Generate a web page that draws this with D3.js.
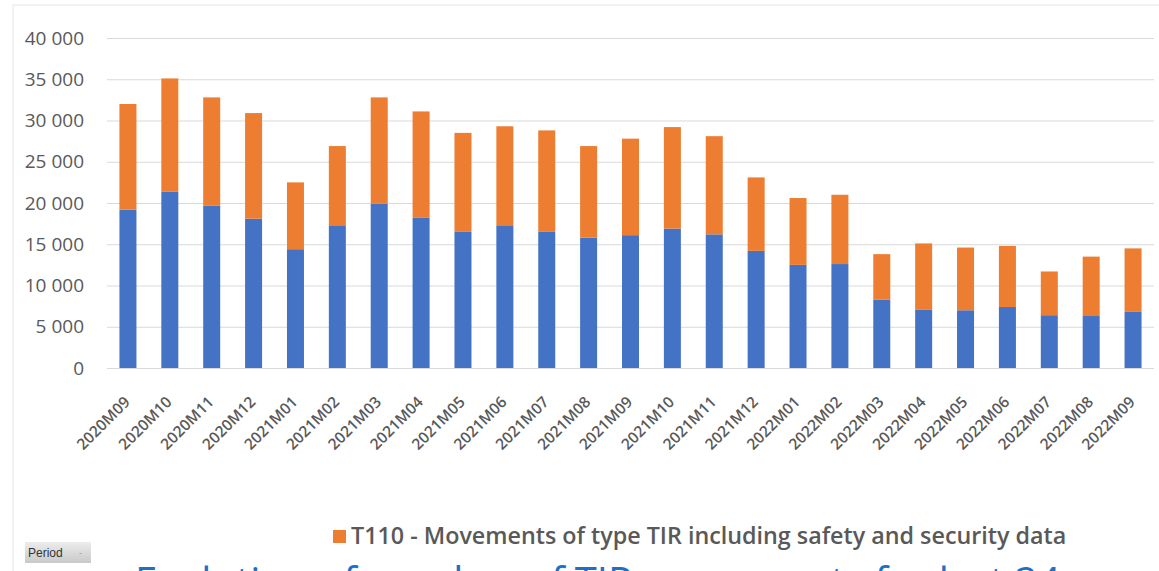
<!DOCTYPE html>
<html>
<head>
<meta charset="utf-8">
<script src="https://cdn.jsdelivr.net/npm/d3@7"></script>
<style>
  body { margin: 0; background: #fff; }
  svg { display: block; }
  .grid line { stroke: #d9d9d9; stroke-width: 1; }
  .grid .domain { display: none; }
  .axis text { fill: #595959; font-family: "Open Sans", sans-serif; }
  .axis .domain, .axis line { display: none; }
</style>
</head>
<body>
<svg id="chart" width="1159" height="571"></svg>
<script>
/* =======================
   DATA
======================= */
const periods = [
    "2020M09", "2020M10", "2020M11", "2020M12",
    "2021M01", "2021M02", "2021M03", "2021M04", "2021M05", "2021M06",
    "2021M07", "2021M08", "2021M09", "2021M10", "2021M11", "2021M12",
    "2022M01", "2022M02", "2022M03", "2022M04", "2022M05", "2022M06",
    "2022M07", "2022M08", "2022M09"
];
// blue series (lower part of each bar)
const otherTir = [
    19200, 21400, 19700, 18100,
    14400, 17300, 19900, 18200, 16500, 17300,
    16500, 15800, 16100, 16900, 16200, 14200,
    12500, 12600, 8300, 7100, 7000, 7400,
    6400, 6300, 6800
];
// orange series: T110
const t110 = [
    12800, 13700, 13100, 12800,
    8100, 9600, 12900, 12900, 12000, 12000,
    12300, 11100, 11700, 12300, 11900, 8900,
    8100, 8400, 5500, 8000, 7600, 7400,
    5300, 7200, 7700
];
const yTicks = [0, 5000, 10000, 15000, 20000, 25000, 30000, 35000, 40000];
const legendLabel = "T110 - Movements of type TIR including safety and security data";
const footerTitle = "Evolution of number of TIR movements for last 24 months";

const colors = { otherTir: "#4472c4", t110: "#ed7d31" };

/* =======================
   CHART
======================= */
const svg = d3.select("#chart");

// outer frame (thin grey borders)
svg.append("line").attr("x1", 13).attr("y1", 5).attr("x2", 1159).attr("y2", 5)
    .attr("stroke", "#e6e6e6");
svg.append("line").attr("x1", 13).attr("y1", 5).attr("x2", 13).attr("y2", 571)
    .attr("stroke", "#e6e6e6");

const plot = { left: 107, right: 1154, top: 38, bottom: 368 };

const xScale = d3.scaleBand()
    .domain(periods)
    .range([plot.left, plot.right])
    .paddingInner(0.594)
    .paddingOuter(0.297);

const yScale = d3.scaleLinear()
    .domain([0, 40000])
    .range([plot.bottom, plot.top]);

// Grid
svg.append("g").attr("class", "grid")
    .attr("transform", `translate(${plot.left},0)`)
    .call(d3.axisLeft(yScale).tickValues(yTicks).tickSize(-(plot.right - plot.left)).tickFormat(""));

// Y axis labels
const fmt = v => d3.format(",")(v).replace(/,/g, " ");
svg.append("g").attr("class", "axis")
    .attr("transform", `translate(${plot.left - 23},0)`)
    .call(d3.axisLeft(yScale).tickValues(yTicks).tickSize(0).tickPadding(0).tickFormat(fmt))
    .selectAll("text")
    .style("font-size", "19px");

// Stacked bars
const rows = periods.map((p, i) => ({ period: p, otherTir: otherTir[i], t110: t110[i] }));
const stacked = d3.stack().keys(["otherTir", "t110"])(rows);

svg.append("g").selectAll("g")
    .data(stacked)
    .join("g")
    .attr("fill", d => colors[d.key])
    .selectAll("rect")
    .data(d => d)
    .join("rect")
    .attr("x", d => xScale(d.data.period))
    .attr("width", xScale.bandwidth())
    .attr("y", d => yScale(d[1]))
    .attr("height", d => yScale(d[0]) - yScale(d[1]));

// X axis labels (rotated)
const xAxis = svg.append("g").attr("class", "axis")
    .attr("transform", `translate(0,${plot.bottom})`)
    .call(d3.axisBottom(xScale).tickSize(0).tickPadding(0));
xAxis.selectAll("text")
    .style("font-size", "15.5px")
    .style("font-weight", "600")
    .attr("text-anchor", "end")
    .attr("dy", null)
    .attr("transform", "translate(3,35) rotate(-45)");

// Legend
const legend = svg.append("g").attr("transform", "translate(333,530)");
legend.append("rect").attr("width", 13).attr("height", 13).attr("fill", colors.t110);
legend.append("text")
    .attr("x", 18).attr("y", 14)
    .attr("fill", "#595959")
    .style("font-family", "'Open Sans', sans-serif")
    .style("font-size", "23.3px")
    .style("font-weight", "600")
    .text(legendLabel);

// "Period" field button
const btnGrad = svg.append("defs").append("linearGradient")
    .attr("id", "btnGrad").attr("x1", 0).attr("y1", 0).attr("x2", 0).attr("y2", 1);
btnGrad.append("stop").attr("offset", "0%").attr("stop-color", "#ececec");
btnGrad.append("stop").attr("offset", "100%").attr("stop-color", "#c9c9c9");
const btn = svg.append("g").attr("transform", "translate(25,542)");
btn.append("rect").attr("width", 66).attr("height", 21).attr("fill", "url(#btnGrad)");
btn.append("text").attr("x", 3).attr("y", 15)
    .attr("fill", "#333")
    .style("font-family", "'Liberation Sans', sans-serif")
    .style("font-size", "12px")
    .text("Period");
btn.append("text").attr("x", 54).attr("y", 14)
    .attr("fill", "#999")
    .style("font-family", "'Liberation Sans', sans-serif")
    .style("font-size", "9px")
    .text("-");

// Slide title underneath, cut by the window edge as in the source
svg.append("text")
    .attr("x", 135).attr("y", 596)
    .attr("fill", "#1f6fc5")
    .style("font-family", "'Open Sans', sans-serif")
    .style("font-size", "40px")
    .text(footerTitle);
</script>
</body>
</html>
